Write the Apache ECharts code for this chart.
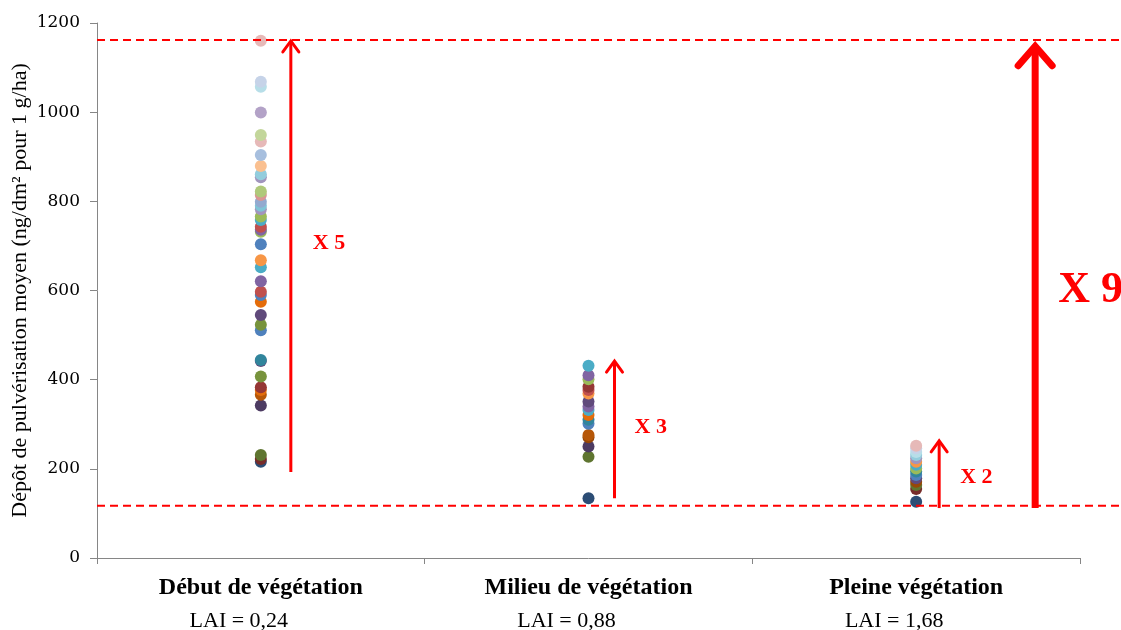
<!DOCTYPE html>
<html>
<head>
<meta charset="utf-8">
<script src="https://cdn.jsdelivr.net/npm/echarts@6/dist/echarts.min.js"></script>
<style>
html, body { margin: 0; padding: 0; background: #fff; }
#chart { width: 1121px; height: 630px; }
</style>
</head>
<body>
<div id="chart"></div>
<script>
// categories and labels
const categories = ["Début de végétation", "Milieu de végétation", "Pleine végétation"]
const laiLabels = ["LAI = 0,24", "LAI = 0,88", "LAI = 1,68"]

// deposits (ng/dm² pour 1 g/ha), bottom to top
const debutValues = [216, 222, 231, 342, 366, 377, 383, 407, 442, 444, 511, 523, 545, 575, 590, 597, 621, 652, 668, 704,
  732, 736, 743, 758, 766, 782, 790, 799, 814, 822, 854, 861, 879, 904, 934, 949, 999, 1057, 1068, 1160]
const milieuValues = [134, 227, 250, 271, 276, 301, 310, 321, 332, 340, 351, 369, 377, 384, 401, 410, 431]
const pleineValues = [126, 155, 164, 171, 179, 186, 194, 201, 209, 216, 224, 231, 238, 246, 252]

// min / max reference lines
const refLines = [1162, 117]
// ratio arrows: category, start, end, label, label anchor value
const arrowCats = [0, 1, 2, 2]
const arrowFrom = [193, 134, 112, 112]
const arrowTo = [1162, 444, 265, 1150]
const arrowLabels = ["X 5", "X 3", "X 2", "X 9"]
const arrowLabelAt = [706, 294, 180, 600]

// excel-like colours per point
const debutColors = ["#2C4D75", "#772C2A", "#5F7530", "#4D3B62", "#B65708", "#E46C0A", "#953735", "#77933C", "#604A7B", "#31859C",
  "#4F81BD", "#77933C", "#604A7B", "#E46C0A", "#4F81BD", "#C0504D", "#8064A2", "#4BACC6", "#F79646", "#4F81BD",
  "#9BBB59", "#8064A2", "#C0504D", "#4BACC6", "#9BBB59", "#A295BD", "#7FC4D6", "#93A9CF", "#D99694", "#AFC97A",
  "#A295BD", "#93CDDD", "#FAC090", "#A7BFDE", "#E6B9B8", "#C3D69B", "#B3A2C7", "#B7DEE8", "#C6D3E8", "#E6B9B8"]
const milieuColors = ["#2C4D75", "#5F7530", "#4D3B62", "#984807", "#B65708", "#4F81BD", "#31859C", "#E46C0A", "#4BACC6",
  "#8064A2", "#604A7B", "#F79646", "#C0504D", "#953735", "#9BBB59", "#8064A2", "#4BACC6"]
const pleineColors = ["#2C4D75", "#772C2A", "#5F7530", "#984807", "#604A7B", "#4F81BD", "#31859C", "#9BBB59", "#4BACC6",
  "#F79646", "#A295BD", "#93CDDD", "#B7DEE8", "#C6D3E8", "#E6B9B8"]

const serif = "'Liberation Serif', 'Times New Roman', serif"
const wideSerif = "'DejaVu Serif', serif"
const red = "#FF0000"

const buildData = (cat, values, colors) =>
  values.map((v, i) => ({ value: [cat, v], itemStyle: { color: colors[i] } }))

const chart = echarts.init(document.getElementById("chart"))

const dotStyle = { opacity: 1 }
const option = {
  animation: false,
  grid: { left: 97, right: 41, top: 23, bottom: 72, containLabel: false, outerBoundsMode: "none" },
  xAxis: {
    type: "category",
    data: categories,
    boundaryGap: true,
    axisLine: { lineStyle: { color: "#868686", width: 1 } },
    axisTick: { show: true, length: 6, lineStyle: { color: "#868686" } },
    axisLabel: {
      margin: 13,
      interval: 0,
      formatter: (val, idx) => "{a|" + val + "}\n{b|" + laiLabels[idx] + "}",
      rich: {
        a: { fontFamily: serif, fontSize: 24, fontWeight: "bold", color: "#000", lineHeight: 34 },
        b: { fontFamily: serif, fontSize: 22, color: "#000", lineHeight: 32, padding: [0, 44, 0, 0] }
      }
    },
    splitLine: { show: false }
  },
  yAxis: {
    type: "value",
    min: 0,
    max: 1200,
    interval: 200,
    name: "Dépôt de pulvérisation moyen (ng/dm² pour 1 g/ha)",
    nameLocation: "middle",
    nameGap: 66,
    nameMoveOverlap: false,
    nameTextStyle: { fontFamily: serif, fontSize: 22, color: "#000" },
    axisLine: { show: true, lineStyle: { color: "#868686", width: 1 } },
    axisTick: { show: true, length: 7, lineStyle: { color: "#868686" } },
    axisLabel: { fontFamily: wideSerif, fontSize: 17, color: "#000", margin: 17, formatter: (v) => String(v) },
    splitLine: { show: false }
  },
  series: [
    { type: "scatter", symbolSize: 12, itemStyle: dotStyle, data: buildData(0, debutValues, debutColors) },
    { type: "scatter", symbolSize: 12, itemStyle: dotStyle, data: buildData(1, milieuValues, milieuColors) },
    { type: "scatter", symbolSize: 12, itemStyle: dotStyle, data: buildData(2, pleineValues, pleineColors) }
  ]
}
chart.setOption(option)

// annotations placed through the chart's own scales
const toPx = (cat, v) => chart.convertToPixel({ xAxisIndex: 0, yAxisIndex: 0 }, [cat, v])
const arrowOffsets = [30, 26, 23, 119]
const arrowWidths = [3, 3, 3, 7]
const headSizes = [8, 8, 8, 17]
const headRatios = [1.5, 1.5, 1.5, 1.2]
const labelSizes = [22, 22, 22, 44]
const labelGaps = [22, 20, 21, 23]

const graphics = []
const gridLeft = toPx(0, 0)[0] - (toPx(1, 0)[0] - toPx(0, 0)[0]) / 2
refLines.forEach((v) => {
  const y = toPx(0, v)[1]
  graphics.push({
    type: "line",
    shape: { x1: gridLeft, y1: y, x2: 1121, y2: y },
    style: { stroke: red, lineWidth: 2, lineDash: [8, 5] },
    z: 10
  })
})
arrowCats.forEach((cat, i) => {
  const x = toPx(cat, 0)[0] + arrowOffsets[i]
  const y1 = toPx(cat, arrowFrom[i])[1]
  const y2 = toPx(cat, arrowTo[i])[1]
  const h = headSizes[i]
  graphics.push({
    type: "line",
    shape: { x1: x, y1: y1, x2: x, y2: y2 + arrowWidths[i] / 2 },
    style: { stroke: red, lineWidth: arrowWidths[i] },
    z: 11
  })
  graphics.push({
    type: "polyline",
    shape: { points: [[x - h, y2 + h * headRatios[i]], [x, y2 + 1], [x + h, y2 + h * headRatios[i]]] },
    style: { stroke: red, lineWidth: arrowWidths[i], fill: null, lineCap: "round", lineJoin: "miter" },
    z: 11
  })
  graphics.push({
    type: "text",
    x: x + labelGaps[i],
    y: toPx(cat, arrowLabelAt[i])[1],
    style: {
      text: arrowLabels[i],
      fill: red,
      font: "bold " + labelSizes[i] + "px " + serif,
      verticalAlign: "middle"
    },
    z: 11
  })
})
chart.setOption({ graphic: graphics })
</script>
</body>
</html>
